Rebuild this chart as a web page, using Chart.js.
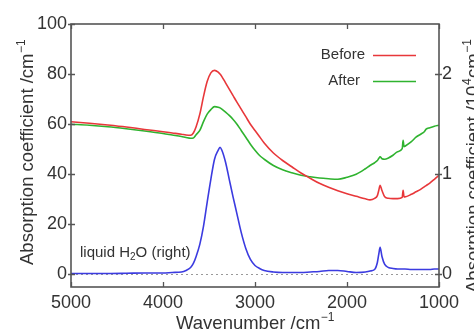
<!DOCTYPE html>
<html>
<head>
<meta charset="utf-8">
<script src="https://cdn.jsdelivr.net/npm/chart.js@4/dist/chart.umd.min.js"></script>
<style>
  body { margin: 0; background: #fff; }
  canvas { display: block; }
</style>
</head>
<body>
<canvas id="spectro" width="474" height="331"></canvas>
<script>
// ---------------- DATOS ----------------
const wavenumber = [5000, 4800, 4600, 4400, 4200, 4000, 3900, 3800, 3750, 3700, 3670, 3640, 3600, 3560, 3520, 3480, 3440, 3400, 3380, 3360, 3320, 3280, 3240, 3200, 3150, 3100, 3050, 3000, 2950, 2900, 2800, 2700, 2600, 2500, 2400, 2300, 2200, 2100, 2000, 1900, 1800, 1750, 1700, 1670, 1655, 1640, 1620, 1590, 1550, 1500, 1450, 1400, 1390, 1380, 1370, 1300, 1250, 1200, 1160, 1140, 1100, 1050, 1000];

// cm^-1 (eje izquierdo)
const before = [61, 60.4, 59.7, 58.9, 57.9, 57.0, 56.5, 56.0, 55.7, 55.6, 56.5, 59, 64, 71, 77, 80.5, 81.5, 80.8, 80, 79, 76.5, 74, 71.5, 69, 66, 63, 60, 57.5, 55, 52.5, 48.5, 45.5, 43, 40.5, 38.4, 36.4, 34.8, 33.4, 32.2, 31.2, 30.2, 29.8, 30.4, 31.5, 33.5, 35.6, 33.5, 31, 30.4, 30.3, 30.3, 30.8, 33.6, 31, 31, 32, 33, 34, 35, 35.5, 36.5, 38, 39.6];
const after = [60, 59.6, 59.0, 58.2, 57.3, 56.3, 55.7, 55.1, 54.7, 54.4, 54.5, 55.8, 57.5, 61, 64, 65.8, 67, 66.8, 66.5, 66, 64.8, 63.5, 62, 60.2, 57.5, 54.8, 52, 49.6, 47.5, 46, 43.5, 41.8, 40.6, 39.6, 39, 38.5, 38.2, 38, 38.8, 40, 42.2, 43.5, 44.6, 45.5, 46.3, 47, 46.2, 46, 46.5, 47.6, 49, 50.2, 53.6, 51, 51.2, 53, 54.8, 56, 57, 58, 58.6, 59.2, 59.6];

// 10^4 cm^-1 (eje derecho)
const water = [0.01, 0.01, 0.01, 0.012, 0.015, 0.015, 0.02, 0.025, 0.04, 0.07, 0.11, 0.18, 0.3, 0.48, 0.72, 0.95, 1.15, 1.24, 1.27, 1.24, 1.12, 0.95, 0.78, 0.62, 0.42, 0.26, 0.15, 0.09, 0.06, 0.04, 0.025, 0.02, 0.02, 0.02, 0.025, 0.03, 0.04, 0.04, 0.03, 0.02, 0.025, 0.035, 0.05, 0.12, 0.2, 0.27, 0.18, 0.1, 0.07, 0.06, 0.055, 0.055, 0.055, 0.055, 0.055, 0.05, 0.05, 0.05, 0.05, 0.05, 0.05, 0.055, 0.055];

const baseline = [0, 0];
const baselineRange = [5000, 1000];

const xTicks = [5000, 4000, 3000, 2000, 1000];
const leftTicks = [0, 20, 40, 60, 80, 100];
const rightTicks = [0, 1, 2];

const FONT = '"Liberation Sans", Arial, Helvetica, sans-serif';
const TXT = '#333';
const FRAME = '#555';

function pts(ys) {
    return wavenumber.map((w, i) => ({ x: w, y: ys[i] }));
}

// ---------------- PLUGINS ----------------
// marco, marcas de escala, títulos de ejes, leyenda y nota
const decor = {
    id: 'decor',
    afterDraw(chart) {
        const ctx = chart.ctx;
        const a = chart.chartArea;
        const sx = chart.scales.x, sy = chart.scales.y, sy1 = chart.scales.y1;
        ctx.save();

        ctx.strokeStyle = FRAME;
        ctx.lineWidth = 1.6;
        ctx.strokeRect(a.left, a.top, a.right - a.left, a.bottom - a.top);

        ctx.lineWidth = 1.3;
        ctx.beginPath();
        xTicks.forEach(v => {
            const px = Math.round(sx.getPixelForValue(v)) + 0.5;
            ctx.moveTo(px, a.bottom); ctx.lineTo(px, a.bottom - 5);
            ctx.moveTo(px, a.top); ctx.lineTo(px, a.top + 5);
        });
        leftTicks.forEach(v => {
            const py = Math.round(sy.getPixelForValue(v)) + 0.5;
            ctx.moveTo(a.left - 3, py); ctx.lineTo(a.left + 4, py);
        });
        rightTicks.forEach(v => {
            const py = Math.round(sy1.getPixelForValue(v)) + 0.5;
            ctx.moveTo(a.right - 4, py); ctx.lineTo(a.right + 3, py);
        });
        ctx.stroke();

        ctx.fillStyle = TXT;
        ctx.textBaseline = 'alphabetic';

        // título con exponente
        function supText(x, y, main, sup, rot) {
            ctx.save();
            ctx.translate(x, y);
            if (rot) ctx.rotate(-Math.PI / 2);
            ctx.font = '18.5px ' + FONT;
            ctx.textAlign = 'left';
            ctx.fillText(main, 0, 0);
            const w = ctx.measureText(main).width;
            ctx.font = '12px ' + FONT;
            ctx.fillText(sup, w + 0.5, -8);
            ctx.restore();
        }

        supText(33, 265, 'Absorption coefficient /cm', '\u22121', true);

        // eje derecho: "10" + "4" + "cm" + "-1"
        ctx.save();
        ctx.translate(479, 293);
        ctx.rotate(-Math.PI / 2);
        ctx.font = '18.5px ' + FONT;
        let cx = 0;
        ctx.fillText('Absorption coefficient /10', cx, 0);
        cx += ctx.measureText('Absorption coefficient /10').width;
        ctx.font = '12px ' + FONT;
        ctx.fillText('4', cx + 0.5, -8);
        cx += ctx.measureText('4').width + 1;
        ctx.font = '18.5px ' + FONT;
        ctx.fillText('cm', cx, 0);
        cx += ctx.measureText('cm').width;
        ctx.font = '12px ' + FONT;
        ctx.fillText('\u22121', cx + 0.5, -8);
        ctx.restore();

        // eje x
        ctx.font = '18.5px ' + FONT;
        const mainW = ctx.measureText('Wavenumber /cm').width;
        ctx.font = '12px ' + FONT;
        const supW = ctx.measureText('\u22121').width;
        const midX = (a.left + a.right) / 2;
        supText(midX - (mainW + supW) / 2, 329, 'Wavenumber /cm', '\u22121', false);

        // leyenda
        ctx.font = '15px ' + FONT;
        ctx.textAlign = 'right';
        ctx.textBaseline = 'middle';
        const rows = [[chart.data.datasets[0], 365, 55], [chart.data.datasets[1], 360, 81]];
        rows.forEach(([ds, tx, ty]) => {
            ctx.fillStyle = TXT;
            ctx.fillText(ds.label, tx, ty);
            ctx.strokeStyle = ds.borderColor;
            ctx.lineWidth = 1.6;
            ctx.beginPath();
            ctx.moveTo(373, ty + 0.5); ctx.lineTo(416, ty + 0.5);
            ctx.stroke();
        });

        // nota del agua líquida
        ctx.fillStyle = TXT;
        ctx.textAlign = 'left';
        ctx.textBaseline = 'alphabetic';
        let nx = 80;
        const ny = 257;
        ctx.font = '15px ' + FONT;
        ctx.fillText('liquid H', nx, ny);
        nx += ctx.measureText('liquid H').width;
        ctx.font = '10px ' + FONT;
        ctx.fillText('2', nx, ny + 3);
        nx += ctx.measureText('2').width;
        ctx.font = '15px ' + FONT;
        ctx.fillText('O (right)', nx, ny);

        ctx.restore();
    }
};

// ---------------- GRÁFICA ----------------
const ctx = document.getElementById('spectro').getContext('2d');

new Chart(ctx, {
    type: 'line',
    data: {
        datasets: [
            {
                label: 'Before',
                data: pts(before),
                borderColor: '#e8373a',
                borderWidth: 1.6,
                yAxisID: 'y'
            },
            {
                label: 'After',
                data: pts(after),
                borderColor: '#2fb32f',
                borderWidth: 1.6,
                yAxisID: 'y'
            },
            {
                label: 'liquid H2O',
                data: pts(water),
                borderColor: '#3b3be0',
                borderWidth: 1.6,
                yAxisID: 'y1'
            },
            {
                label: 'zero',
                data: baselineRange.map((w, i) => ({ x: w, y: baseline[i] })),
                borderColor: '#999',
                borderWidth: 1.2,
                borderDash: [2, 3],
                yAxisID: 'y'
            }
        ]
    },
    options: {
        responsive: false,
        animation: false,
        layout: { padding: { top: 24, left: 0, right: 0, bottom: 0 } },
        elements: {
            point: { radius: 0 },
            line: { cubicInterpolationMode: 'monotone' }
        },
        plugins: {
            legend: { display: false },
            tooltip: { enabled: false }
        },
        scales: {
            x: {
                type: 'linear',
                reverse: true,
                min: 1000,
                max: 5000,
                grid: { display: false, drawTicks: false },
                border: { display: false },
                ticks: {
                    stepSize: 1000,
                    padding: 5,
                    color: TXT,
                    font: { family: FONT, size: 18 },
                    maxRotation: 0,
                    callback: v => String(v)
                },
                afterFit: s => { s.height = 44; }
            },
            y: {
                position: 'left',
                min: -5,
                max: 100,
                grid: { display: false, drawTicks: false },
                border: { display: false },
                ticks: {
                    stepSize: 20,
                    includeBounds: false,
                    padding: 4,
                    color: TXT,
                    font: { family: FONT, size: 18 }
                },
                afterFit: s => { s.width = 71; }
            },
            y1: {
                position: 'right',
                min: -0.125,
                max: 2.5,
                grid: { display: false, drawTicks: false },
                border: { display: false },
                ticks: {
                    stepSize: 1,
                    includeBounds: false,
                    padding: 3,
                    color: TXT,
                    font: { family: FONT, size: 18 }
                },
                afterFit: s => { s.width = 35; }
            }
        }
    },
    plugins: [decor]
});
</script>
</body>
</html>
